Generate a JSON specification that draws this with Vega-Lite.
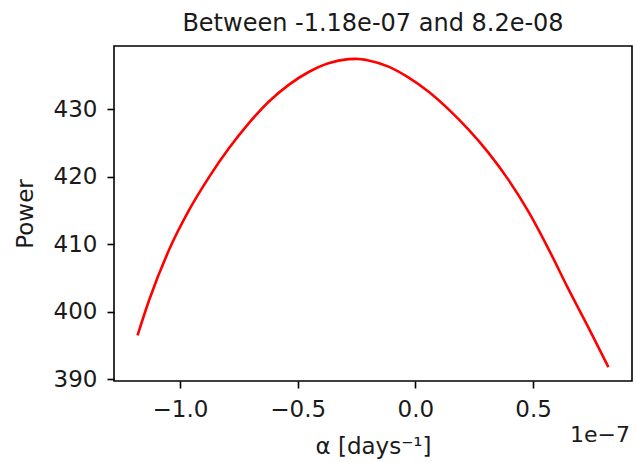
{
  "$schema": "https://vega.github.io/schema/vega-lite/v6.json",
  "width": 518,
  "height": 335,
  "autosize": "none",
  "padding": {"left": 114, "top": 46, "right": 4, "bottom": 81},
  "background": "white",
  "config": {
    "font": "DejaVu Sans",
    "view": {"stroke": "#000000", "strokeWidth": 1.6},
    "axis": {
      "domain": false,
      "grid": false,
      "ticks": true,
      "tickColor": "#000000",
      "tickWidth": 1.6,
      "tickSize": 7,
      "labelFont": "DejaVu Sans",
      "labelFontSize": 23,
      "labelColor": "#1a1a1a",
      "titleFont": "DejaVu Sans",
      "titleFontSize": 23,
      "titleFontWeight": "normal",
      "titleColor": "#1a1a1a"
    }
  },
  "title": {
    "text": "Between -1.18e-07 and 8.2e-08",
    "font": "DejaVu Sans",
    "fontSize": 24,
    "fontWeight": "normal",
    "color": "#1a1a1a",
    "anchor": "middle",
    "baseline": "alphabetic",
    "offset": 8,
    "dy": 17
  },
  "data": {
    "values": [
      {"alpha": -1.18, "power": 396.5},
      {"alpha": -1.131, "power": 401.7},
      {"alpha": -1.047, "power": 409.1},
      {"alpha": -0.962, "power": 415.0},
      {"alpha": -0.877, "power": 419.9},
      {"alpha": -0.792, "power": 424.2},
      {"alpha": -0.708, "power": 427.9},
      {"alpha": -0.623, "power": 431.1},
      {"alpha": -0.538, "power": 433.6},
      {"alpha": -0.453, "power": 435.5},
      {"alpha": -0.369, "power": 436.8},
      {"alpha": -0.284, "power": 437.4},
      {"alpha": -0.25, "power": 437.45},
      {"alpha": -0.199, "power": 437.2},
      {"alpha": -0.114, "power": 436.3},
      {"alpha": -0.03, "power": 434.7},
      {"alpha": 0.055, "power": 432.6},
      {"alpha": 0.14, "power": 430.0},
      {"alpha": 0.225, "power": 427.0},
      {"alpha": 0.309, "power": 423.6},
      {"alpha": 0.394, "power": 419.6},
      {"alpha": 0.479, "power": 414.9},
      {"alpha": 0.564, "power": 409.4},
      {"alpha": 0.648, "power": 403.5},
      {"alpha": 0.733, "power": 397.8},
      {"alpha": 0.82, "power": 391.8}
    ]
  },
  "layer": [
    {
      "mark": {"type": "line", "color": "#ff0000", "strokeWidth": 2.6, "interpolate": "monotone"},
      "encoding": {
        "x": {
          "field": "alpha",
          "type": "quantitative",
          "scale": {"domain": [-1.28, 0.92], "nice": false, "zero": false},
          "axis": {"values": [-1.0, -0.5, 0.0, 0.5], "format": ".1f", "title": "α [days⁻¹]", "labelPadding": 10, "titlePadding": 14}
        },
        "y": {
          "field": "power",
          "type": "quantitative",
          "scale": {"domain": [389.75, 439.35], "nice": false, "zero": false},
          "axis": {"values": [390, 400, 410, 420, 430], "format": "d", "title": "Power", "labelPadding": 10, "titlePadding": 16}
        }
      }
    },
    {
      "data": {"values": [{"label": "1e−7"}]},
      "mark": {"type": "text", "align": "right", "baseline": "alphabetic", "fontSize": 22, "font": "DejaVu Sans", "color": "#1a1a1a", "dy": 61, "dx": -2, "clip": false},
      "encoding": {
        "x": {"datum": 0.92, "type": "quantitative"},
        "y": {"datum": 389.75, "type": "quantitative"},
        "text": {"field": "label"}
      }
    }
  ]
}
